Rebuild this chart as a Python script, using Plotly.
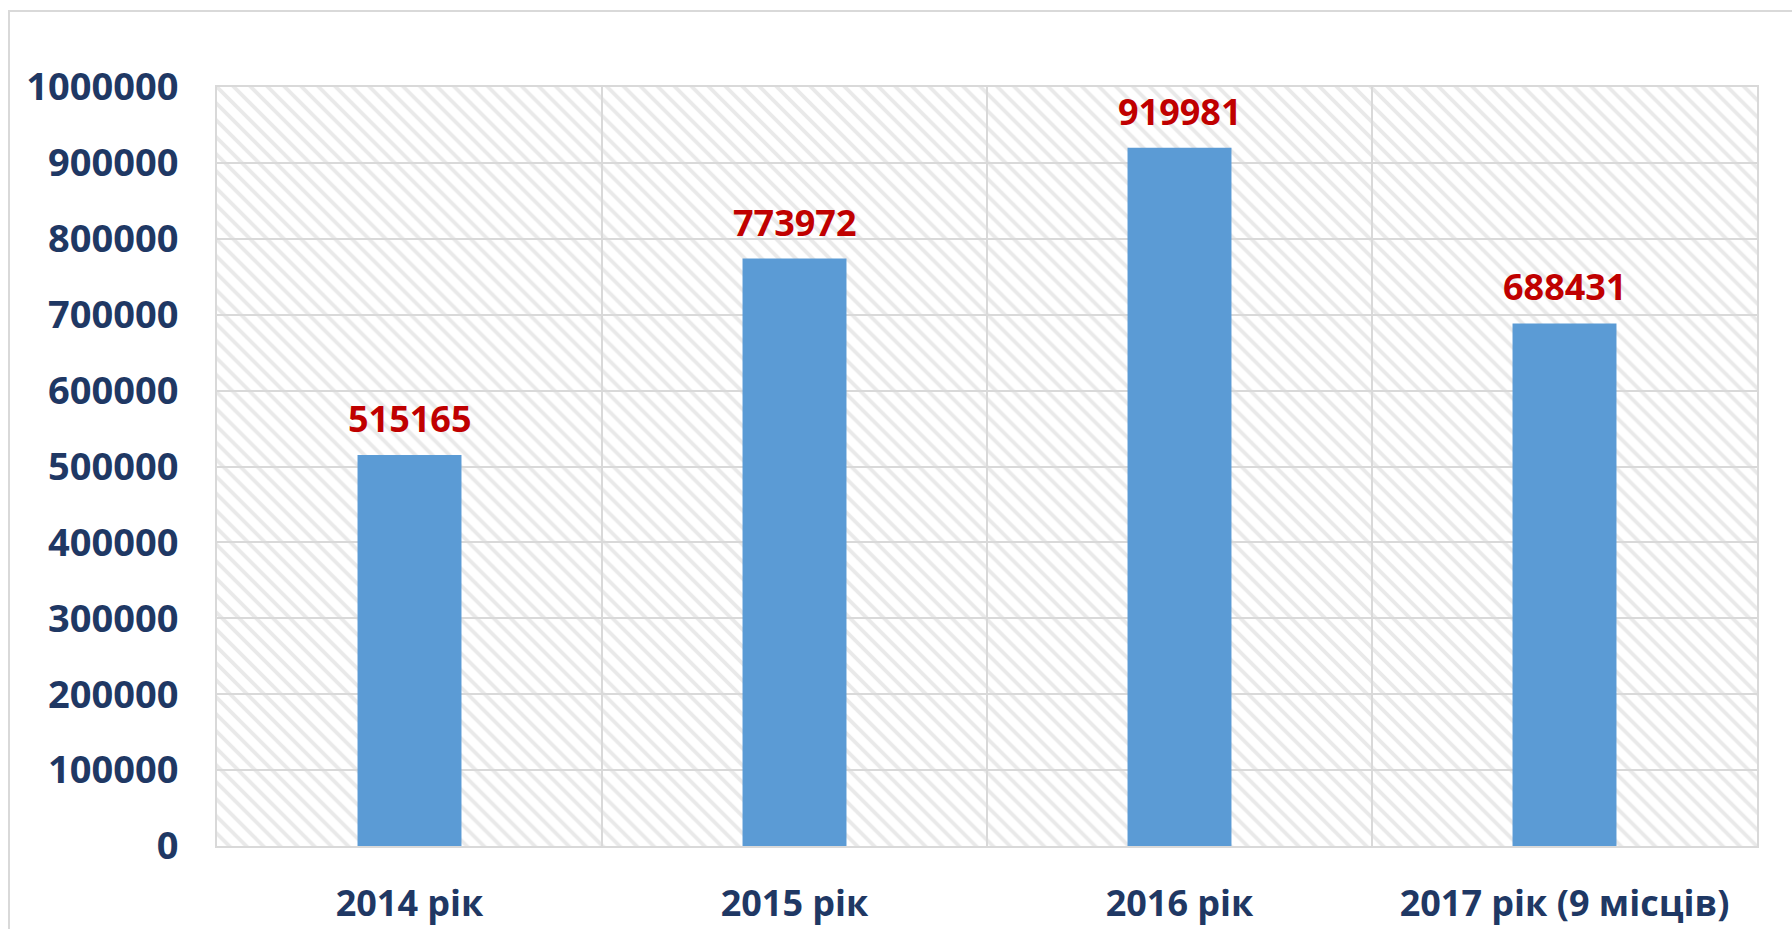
import plotly.graph_objects as go

categories = ["2014 рік", "2015 рік", "2016 рік", "2017 рік (9 місців)"]
values = [515165, 773972, 919981, 688431]
y_ticks = [0, 100000, 200000, 300000, 400000, 500000, 600000, 700000, 800000, 900000, 1000000]
y_tick_labels = [str(v) for v in y_ticks]

NAVY = "#1F3864"
RED = "#C00000"
BAR = "#5B9BD5"
GRID = "#D9D9D9"
FONT = "Open Sans"

W, H = 1792, 929
ML, MR, MT, MB = 217, 35, 87, 83
PW, PH = W - ML - MR, H - MT - MB

fig = go.Figure()

# hatched background (first subplot, drawn underneath)
fig.add_trace(go.Bar(
    x=[0.5], y=[1], width=[1], xaxis="x", yaxis="y",
    marker=dict(color="white", line=dict(width=0),
                pattern=dict(shape="\\", fgcolor="#D4D4D4", bgcolor="white",
                             size=12, solidity=0.32)),
    hoverinfo="skip", showlegend=False,
))

# data bars (second subplot, drawn on top, with its gridlines)
fig.add_trace(go.Bar(
    x=categories, y=values, xaxis="x2", yaxis="y2",
    width=0.27, marker=dict(color=BAR, line=dict(width=0)),
    showlegend=False,
))

for c, v in zip(categories, values):
    fig.add_annotation(
        x=c, y=v, xref="x2", yref="y2", text=str(v), showarrow=False,
        yanchor="bottom", yshift=10,
        font=dict(family=FONT, size=36, color=RED, weight="bold"),
    )

fig.add_shape(
    type="rect", xref="paper", yref="paper",
    x0=(9 - ML) / PW, x1=1.2, y0=-0.3, y1=(PH + MT - 11) / PH,
    line=dict(color=GRID, width=2), fillcolor="rgba(0,0,0,0)", layer="below",
)

fig.update_layout(
    width=W, height=H,
    margin=dict(l=ML, r=MR, t=MT, b=MB, pad=0, autoexpand=False),
    paper_bgcolor="white", plot_bgcolor="rgba(0,0,0,0)",
    showlegend=False,
    xaxis=dict(domain=[0, 1], range=[0, 1], visible=False, fixedrange=True,
               automargin=False),
    yaxis=dict(domain=[0, 1], range=[0, 1], visible=False, fixedrange=True,
               automargin=False),
    xaxis2=dict(
        domain=[0, 1], anchor="y2", type="category", automargin=False,
        range=[-0.5, 3.5], tickson="boundaries", ticks="",
        showgrid=True, gridcolor=GRID, gridwidth=2,
        showline=True, linecolor=GRID, linewidth=2, mirror=True,
        tickfont=dict(family=FONT, size=36, color=NAVY, weight="bold"),
        ticklabelstandoff=25,
    ),
    yaxis2=dict(
        domain=[0, 1], anchor="x2", range=[0, 1000000], automargin=False,
        tickvals=y_ticks, ticktext=y_tick_labels, ticks="",
        showgrid=True, gridcolor=GRID, gridwidth=2, zeroline=False,
        showline=True, linecolor=GRID, linewidth=2, mirror=True,
        tickfont=dict(family=FONT, size=38, color=NAVY, weight="bold"),
        ticklabelstandoff=29,
    ),
)

fig.write_html(
    "out.html",
    config={"displayModeBar": False},
    post_script="document.body.style.margin='0';document.body.style.overflow='hidden';",
)
